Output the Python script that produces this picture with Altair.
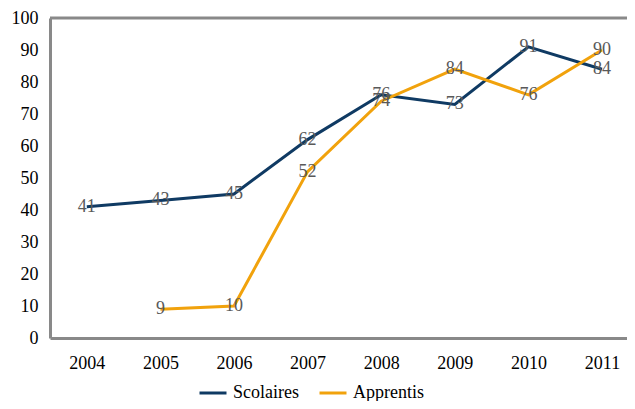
import altair as alt
import pandas as pd

years = [2004, 2005, 2006, 2007, 2008, 2009, 2010, 2011]
scolaires = [41, 43, 45, 62, 76, 73, 91, 84]
apprentis = [None, 9, 10, 52, 74, 84, 76, 90]
series_names = ["Scolaires", "Apprentis"]
series_colors = ["#0f3a63", "#f1a20c"]
y_ticks = [0, 10, 20, 30, 40, 50, 60, 70, 80, 90, 100]

rows = []
for name, vals in zip(series_names, [scolaires, apprentis]):
    for yr, v in zip(years, vals):
        if v is not None:
            rows.append({"year": yr, "value": v, "series": name})
df = pd.DataFrame(rows)

FONT = "Liberation Serif"
GRAY = "#898989"

x = alt.X("year:Q",
          scale=alt.Scale(domain=[2003.5, 2011.34], nice=False, zero=False),
          axis=alt.Axis(values=years, format="d", title=None, grid=False,
                        ticks=False, labelPadding=16, labelFontSize=18,
                        labelFont=FONT, labelColor="#000000",
                        domainColor=GRAY, domainWidth=3,
                        labelFlush=False, labelOverlap=False))
y = alt.Y("value:Q",
          scale=alt.Scale(domain=[0, 100], nice=False),
          axis=alt.Axis(values=y_ticks, title=None, grid=False, ticks=False,
                        labelPadding=12, labelFontSize=18, labelFont=FONT,
                        labelColor="#000000", domainColor=GRAY, domainWidth=3,
                        labelOverlap=False, labelFlush=False))
color = alt.Color("series:N",
                  scale=alt.Scale(domain=series_names, range=series_colors),
                  legend=alt.Legend(title=None, orient="none", direction="horizontal",
                                    legendX=148, legendY=360,
                                    symbolType="stroke", symbolSize=729,
                                    symbolStrokeWidth=3, labelFont=FONT,
                                    labelFontSize=18, labelColor="#000000",
                                    labelOffset=5, columnPadding=14))

lines = alt.Chart(df).mark_line(strokeWidth=3).encode(
    x=x, y=y, color=color,
    order=alt.Order("year:Q"))

labels = alt.Chart(df).mark_text(font=FONT, fontSize=18, color="#595959",
                                 align="center", baseline="middle").encode(
    x=x, y=y, text="value:Q")

top = alt.Chart(pd.DataFrame({"value": [100]})).mark_rule(color=GRAY, strokeWidth=3).encode(
    y=y)

chart = alt.layer(lines, top, labels).properties(
    width=577, height=320,
    autosize=alt.AutoSizeParams(type="none"),
    padding={"left": 42, "top": 10, "right": 0, "bottom": 63},
).configure_view(stroke=None)

chart.save("out.html", embed_options={"renderer": "svg", "actions": False})
